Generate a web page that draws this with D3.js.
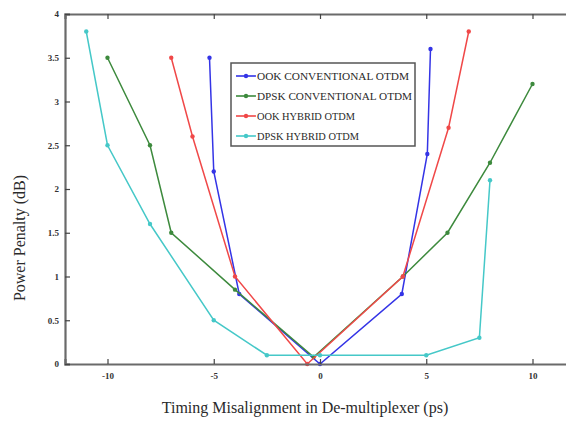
<!DOCTYPE html>
<html><head><meta charset="utf-8">
<script src="https://cdn.jsdelivr.net/npm/d3@7/dist/d3.min.js"></script>
<style>body{margin:0;background:#fff;overflow:hidden}svg{display:block}</style>
</head><body>
<svg id="c" width="566" height="423"></svg>
<script>
const seriesNames = ["OOK CONVENTIONAL OTDM","DPSK CONVENTIONAL OTDM","OOK HYBRID OTDM","DPSK HYBRID OTDM"];
const seriesColors = ["#3434e6","#3d8a3d","#f04848","#45c8c8"];
const blueX = [-5.2,-5,-3.8,0,3.85,5.05,5.2];
const blueY = [3.5,2.2,0.8,0,0.8,2.4,3.6];
const greenX = [-10,-8,-7,-4,-0.3,3.9,6,8,10];
const greenY = [3.5,2.5,1.5,0.85,0.08,1.0,1.5,2.3,3.2];
const redX = [-7,-6,-4,-0.6,3.9,6.05,7];
const redY = [3.5,2.6,1.0,0,1.0,2.7,3.8];
const cyanX = [-11,-10,-8,-5,-2.5,0,5,7.5,8];
const cyanY = [3.8,2.5,1.6,0.5,0.1,0.1,0.1,0.3,2.1];
const xTicks = [-10,-5,0,5,10];
const xTickLabels = ["-10","-5","0","5","10"];
const yTicks = [0,0.5,1,1.5,2,2.5,3,3.5,4];
const yTickLabels = ["0","0.5","1","1.5","2","2.5","3","3.5","4"];

const svg = d3.select("#c");
const x = d3.scaleLinear().domain([-12,12]).range([65,575]);
const y = d3.scaleLinear().domain([0,4]).range([364,14]);
const axisColor = "#6a6a6a";

const series = [[blueX,blueY],[greenX,greenY],[redX,redY],[cyanX,cyanY]];
const line = d3.line().x(d=>x(d[0])).y(d=>y(d[1]));
series.forEach((s,i)=>{
  const pts = s[0].map((v,j)=>[v,s[1][j]]);
  svg.append("path").attr("d",line(pts)).attr("fill","none")
    .attr("stroke",seriesColors[i]).attr("stroke-width",1.5);
  svg.selectAll(null).data(pts).enter().append("circle")
    .attr("cx",d=>x(d[0])).attr("cy",d=>y(d[1])).attr("r",2.2)
    .attr("fill",seriesColors[i]);
});

// axes
const gBottom = svg.append("g").attr("transform","translate(0,364)")
  .call(d3.axisBottom(x).tickValues(xTicks).tickSize(-5).tickPadding(9).tickFormat((d,i)=>xTickLabels[i]));
const gTop = svg.append("g").attr("transform","translate(0,14)")
  .call(d3.axisTop(x).tickValues(xTicks).tickSize(-5).tickFormat(""));
const gLeft = svg.append("g").attr("transform","translate(65,0)")
  .call(d3.axisLeft(y).tickValues(yTicks).tickSize(-5).tickPadding(6).tickFormat((d,i)=>yTickLabels[i]));
[gBottom,gTop,gLeft].forEach(g=>{
  g.select(".domain").attr("stroke",axisColor).attr("stroke-width",2.2);
  g.selectAll(".tick line").attr("stroke","#444").attr("stroke-width",1.2);
  g.selectAll("text").attr("font-family","Liberation Serif").attr("font-size",9)
    .attr("font-weight","bold").attr("fill","#333");
});

// legend
const legendTextLen = [152,155,98,102];
const lg = svg.append("g");
lg.append("rect").attr("x",231).attr("y",63).attr("width",184).attr("height",83)
  .attr("fill","#fff").attr("stroke","#555").attr("stroke-width",1.5);
seriesNames.forEach((n,i)=>{
  const yy = 76 + i*20;
  lg.append("line").attr("x1",236).attr("x2",256).attr("y1",yy).attr("y2",yy)
    .attr("stroke",seriesColors[i]).attr("stroke-width",1.6);
  lg.append("circle").attr("cx",246).attr("cy",yy).attr("r",2.2).attr("fill",seriesColors[i]);
  lg.append("text").attr("x",257).attr("y",yy+3.5).text(n)
    .attr("font-family","Liberation Serif").attr("font-size",10).attr("fill","#2a2a2a")
    .attr("textLength",legendTextLen[i]).attr("lengthAdjust","spacingAndGlyphs");
});

svg.append("text").attr("x",305).attr("y",413).attr("text-anchor","middle")
  .attr("font-family","Liberation Serif").attr("font-size",16).attr("fill","#2a2a2a")
  .text("Timing Misalignment in De-multiplexer (ps)");
svg.append("text").attr("transform","translate(25,238) rotate(-90)").attr("text-anchor","middle")
  .attr("font-family","Liberation Serif").attr("font-size",16).attr("fill","#2a2a2a")
  .text("Power Penalty (dB)");
</script>
</body></html>
